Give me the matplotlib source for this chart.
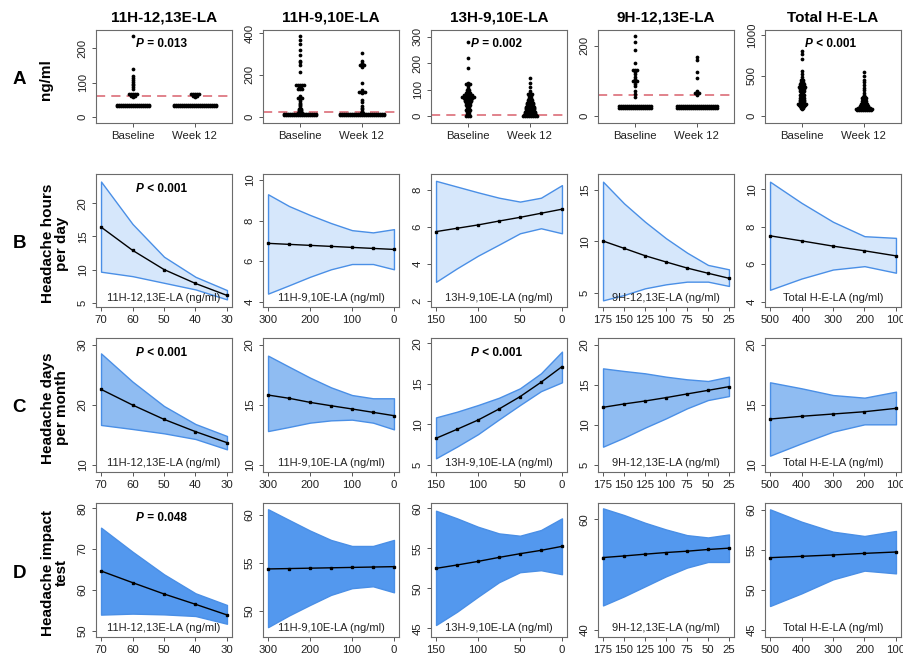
import numpy as np
import matplotlib
matplotlib.use('Agg')
import matplotlib.pyplot as plt
from matplotlib.offsetbox import TextArea, HPacker, AnchoredOffsetbox

plt.rcParams['font.family'] = ['Liberation Sans', 'DejaVu Sans']

# ---------------- data ----------------
analytes = ["11H-12,13E-LA", "11H-9,10E-LA", "13H-9,10E-LA", "9H-12,13E-LA", "Total H-E-LA"]
groups_A = ["Baseline", "Week 12"]

# Row A: (value ng/ml, number of patients at that value)
base_1 = [(31, 17), (36, 17), (58, 1), (62, 3), (66, 5), (80, 1), (86, 1), (92, 1), (97, 1),
          (102, 1), (107, 1), (112, 1), (118, 1), (138, 1), (235, 1)]
week_1 = [(31, 22), (36, 22), (58, 1), (62, 3), (66, 5)]
base_2 = [(8, 17), (14, 17), (20, 3), (26, 2), (32, 2), (38, 2), (44, 1), (50, 1), (56, 1), (62, 1),
          (68, 1), (75, 1), (85, 1), (92, 3), (99, 1), (135, 3), (142, 2), (150, 5), (215, 1),
          (245, 1), (260, 1), (268, 1), (295, 1), (320, 1), (345, 1), (365, 1), (385, 1)]
week_2 = [(8, 23), (14, 23), (20, 2), (28, 1), (36, 1), (44, 1), (52, 1), (72, 1), (80, 1),
          (115, 1), (120, 4), (126, 1), (160, 1), (240, 1), (248, 3), (256, 1), (265, 1), (305, 1)]
base_3 = [(0, 3), (8, 2), (15, 2), (22, 3), (28, 2), (35, 2), (42, 3), (50, 3), (56, 4), (62, 4),
          (68, 5), (74, 7), (80, 5), (86, 3), (92, 2), (98, 2), (106, 1), (115, 1), (120, 3),
          (126, 1), (183, 1), (218, 1), (281, 1)]
week_3 = [(0, 8), (5, 7), (10, 6), (15, 6), (20, 5), (25, 5), (30, 5), (35, 5), (40, 4), (45, 4),
          (50, 4), (55, 3), (60, 3), (65, 2), (70, 2), (75, 2), (82, 3), (88, 1), (95, 1),
          (110, 1), (125, 1), (145, 1)]
base_4 = [(24, 17), (29, 17), (55, 1), (62, 1), (72, 1), (85, 1), (92, 1), (98, 3), (104, 1),
          (110, 1), (118, 1), (124, 1), (130, 3), (150, 1), (188, 1), (211, 1), (228, 1)]
week_4 = [(24, 21), (29, 21), (60, 1), (65, 3), (70, 1), (107, 1), (126, 1), (159, 1), (167, 1)]
base_5 = [(90, 1), (100, 2), (110, 2), (120, 3), (135, 4), (150, 5), (165, 3), (180, 3), (200, 3),
          (220, 3), (240, 2), (255, 3), (275, 2), (295, 2), (315, 3), (335, 3), (355, 4),
          (375, 3), (395, 3), (420, 2), (445, 2), (480, 1), (520, 1), (560, 1), (700, 1),
          (760, 1), (800, 1)]
week_5 = [(80, 8), (90, 9), (100, 7), (110, 5), (120, 5), (135, 4), (150, 4), (165, 3), (180, 3),
          (200, 2), (220, 3), (240, 2), (260, 1), (290, 1), (320, 1), (350, 1), (380, 1),
          (420, 1), (450, 1), (500, 1), (540, 1)]
A_base = [base_1, base_2, base_3, base_4, base_5]
A_week = [week_1, week_2, week_3, week_4, week_5]
A_limit = [62, 22, 4, 60, None]
A_yticks = [[0, 100, 200], [0, 200, 400], [0, 100, 200, 300], [0, 200], [0, 500, 1000]]
A_ylim = [(-17, 252), (-29, 414), (-26, 325), (-20, 244), (-86, 1062)]
A_p = ["= 0.013", None, "= 0.002", None, "< 0.001"]

conc = [
    [70, 60, 50, 40, 30],
    [300, 250, 200, 150, 100, 50, 0],
    [150, 125, 100, 75, 50, 25, 0],
    [175, 150, 125, 100, 75, 50, 25],
    [500, 400, 300, 200, 100],
]
conc_ticks = [
    [70, 60, 50, 40, 30],
    [300, 200, 100, 0],
    [150, 100, 50, 0],
    [175, 150, 125, 100, 75, 50, 25],
    [500, 400, 300, 200, 100],
]

hours_mean = [
    [16.4, 12.9, 10.0, 7.9, 6.1],
    [6.88, 6.83, 6.78, 6.73, 6.68, 6.63, 6.58],
    [5.75, 5.93, 6.11, 6.32, 6.52, 6.74, 6.96],
    [10.03, 9.32, 8.60, 7.99, 7.40, 6.89, 6.40],
    [7.52, 7.25, 6.97, 6.72, 6.45],
]
hours_upper = [
    [23.26, 16.87, 11.93, 8.9, 6.9],
    [9.3, 8.72, 8.28, 7.88, 7.53, 7.42, 7.58],
    [8.49, 8.18, 7.87, 7.58, 7.37, 7.58, 8.26],
    [15.81, 13.7, 11.91, 10.3, 8.9, 7.7, 7.27],
    [10.41, 9.28, 8.27, 7.5, 7.41],
]
hours_lower = [
    [9.67, 9.0, 8.0, 7.0, 5.5],
    [4.4, 4.81, 5.23, 5.6, 5.86, 5.86, 5.6],
    [3.04, 3.77, 4.45, 5.05, 5.66, 5.93, 5.66],
    [4.25, 4.77, 5.42, 5.81, 6.07, 6.07, 5.65],
    [4.64, 5.24, 5.72, 5.9, 5.55],
]
hours_yticks = [[5, 10, 15, 20], [4, 6, 8, 10], [2, 4, 6, 8], [5, 10, 15], [4, 6, 8, 10]]
hours_ylim = [(4.35, 24.4), (3.74, 10.3), (1.68, 8.86), (3.6, 16.56), (3.72, 10.82)]
hours_p = ["< 0.001", None, None, None, None]

days_mean = [
    [22.61, 20.0, 17.61, 15.56, 13.72],
    [15.83, 15.56, 15.22, 14.94, 14.67, 14.39, 14.11],
    [8.29, 9.4, 10.54, 11.9, 13.42, 15.19, 17.12],
    [12.21, 12.63, 13.0, 13.42, 13.88, 14.33, 14.79],
    [13.83, 14.06, 14.25, 14.44, 14.72],
]
days_upper = [
    [28.6, 23.9, 19.83, 16.83, 14.83],
    [19.11, 18.19, 17.28, 16.47, 15.83, 15.56, 15.56],
    [10.87, 11.57, 12.39, 13.29, 14.45, 16.3, 18.97],
    [17.08, 16.75, 16.46, 16.04, 15.71, 15.5, 16.04],
    [16.89, 16.39, 15.83, 15.61, 16.11],
]
days_lower = [
    [16.67, 16.0, 15.28, 14.33, 12.61],
    [12.83, 13.17, 13.53, 13.72, 13.78, 13.53, 12.97],
    [5.83, 7.27, 8.8, 10.62, 12.39, 14.1, 15.19],
    [7.29, 8.42, 9.67, 10.83, 12.08, 13.12, 13.62],
    [10.78, 11.81, 12.78, 13.39, 13.39],
]
days_yticks = [[10, 20, 30], [10, 15, 20], [5, 10, 15, 20], [5, 10, 15, 20], [10, 15, 20]]
days_ylim = [(8.83, 31.17), (9.42, 20.58), (4.14, 20.65), (4.125, 20.875), (9.42, 20.58)]
days_p = ["< 0.001", None, "< 0.001", None, None]

hit_mean = [
    [64.63, 61.78, 59.0, 56.47, 53.86],
    [54.36, 54.40, 54.44, 54.48, 54.52, 54.56, 54.60],
    [52.5, 52.92, 53.37, 53.87, 54.33, 54.75, 55.25],
    [53.09, 53.38, 53.7, 54.0, 54.24, 54.55, 54.79],
    [54.04, 54.21, 54.38, 54.58, 54.75],
]
hit_upper = [
    [75.25, 69.36, 63.82, 59.17, 56.3],
    [60.6, 59.48, 58.37, 57.39, 56.76, 56.76, 57.39],
    [59.7, 58.75, 57.7, 56.87, 56.58, 57.29, 58.75],
    [62.0, 60.79, 59.39, 58.18, 57.15, 56.73, 57.27],
    [60.08, 58.54, 57.29, 56.75, 57.38],
]
hit_lower = [
    [53.94, 54.18, 54.0, 53.6, 51.7],
    [48.28, 49.5, 50.6, 51.65, 52.35, 52.55, 51.92],
    [45.42, 47.08, 48.96, 50.77, 52.02, 52.27, 51.77],
    [44.42, 46.06, 47.87, 49.69, 51.27, 52.29, 52.29],
    [48.0, 49.58, 51.33, 52.42, 52.08],
]
hit_yticks = [[50, 60, 70, 80], [50, 55, 60], [45, 50, 55, 60], [40, 60], [45, 50, 55, 60]]
hit_ylim = [(48.45, 81.3), (47.25, 61.25), (43.92, 60.67), (38.7, 62.97), (44.125, 60.875)]
hit_p = ["= 0.048", None, None, None, None]

row_letters = ["A", "B", "C", "D"]
row_titles = ["ng/ml", "Headache hours\nper day", "Headache days\nper month", "Headache impact\ntest"]

# ---------------- layout ----------------
W, H = 904, 656
fig = plt.figure(figsize=(W / 100, H / 100), dpi=100)
lefts = [96, 263, 431, 598, 765]
pw = 136
tops = [30, 174, 338, 503]
bottoms = [123, 307, 472, 637]

TICK_COL = '#222222'


def add_ax(c, r):
    l = lefts[c]
    t = tops[r]
    b = bottoms[r]
    return fig.add_axes([l / W, 1 - b / H, pw / W, (b - t) / H])


def style(ax, yticks, ylim):
    for s in ax.spines.values():
        s.set_color('#6b6b6b')
        s.set_linewidth(0.8)
    ax.tick_params(direction='out', length=3, width=0.7, color='#555555',
                   labelsize=8.2, labelcolor=TICK_COL)
    ax.tick_params(axis='x', pad=2.5)
    ax.tick_params(axis='y', pad=3)
    ax.set_ylim(*ylim)
    ax.set_yticks(yticks)
    ax.set_yticklabels([str(v) for v in yticks], rotation=90, va='center')


def ptext(ax, rest, x, y, size=8.5):
    t1 = TextArea("P", textprops=dict(fontstyle='italic', fontweight='bold', fontsize=size))
    t2 = TextArea(" " + rest, textprops=dict(fontweight='bold', fontsize=size))
    box = HPacker(children=[t1, t2], align='baseline', pad=0, sep=0)
    ab = AnchoredOffsetbox(loc='center', child=box, bbox_to_anchor=(x, y),
                           bbox_transform=ax.transAxes, frameon=False, pad=0, borderpad=0)
    ax.add_artist(ab)


def swarm(ax, groups, xc, dx=0.032):
    xs, ys = [], []
    for v, n in groups:
        off = (np.arange(n) - (n - 1) / 2) * dx
        xs.extend(xc + off)
        ys.extend([v] * n)
    ax.plot(xs, ys, 'o', color='black', ms=2.7, mec='none', zorder=3)


# Row A
for c in range(5):
    ax = add_ax(c, 0)
    swarm(ax, A_base[c], 1)
    swarm(ax, A_week[c], 2)
    if A_limit[c] is not None:
        ax.axhline(A_limit[c], color='#d8606c', lw=1.1, ls=(0, (6, 4)), zorder=2)
    ax.set_xlim(0.4, 2.6)
    ax.set_xticks([1, 2])
    ax.set_xticklabels(groups_A)
    style(ax, A_yticks[c], A_ylim[c])
    if A_p[c]:
        ptext(ax, A_p[c], 0.48, 0.845)
    fig.text((lefts[c] + pw / 2) / W, 1 - 18 / H, analytes[c], ha='center', va='center',
             fontsize=11, fontweight='bold')

rows = [
    (hours_mean, hours_upper, hours_lower, hours_yticks, hours_ylim, hours_p, '#d6e7fb'),
    (days_mean, days_upper, days_lower, days_yticks, days_ylim, days_p, '#8fbcf2'),
    (hit_mean, hit_upper, hit_lower, hit_yticks, hit_ylim, hit_p, '#5398ee'),
]
EDGE = '#4a8fe6'
for ri, (mean, up, lo, ytk, ylm, pv, fillc) in enumerate(rows):
    r = ri + 1
    for c in range(5):
        ax = add_ax(c, r)
        x = conc[c]
        ax.fill_between(x, lo[c], up[c], facecolor=fillc, edgecolor=EDGE, lw=1.0, zorder=1)
        ax.plot(x, mean[c], '-', color='black', lw=1.0, marker='s', ms=1.6, zorder=3)
        xmin, xmax = min(x), max(x)
        ext = 0.04 * (xmax - xmin)
        ax.set_xlim(xmax + ext, xmin - ext)
        ax.set_xticks(conc_ticks[c])
        ax.set_xticklabels([str(v) for v in conc_ticks[c]])
        style(ax, ytk[c], ylm[c])
        ax.text(0.5, 0.065, analytes[c] + " (ng/ml)", transform=ax.transAxes,
                ha='center', va='center', fontsize=8, color=TICK_COL, zorder=4)
        if pv[c]:
            ptext(ax, pv[c], 0.48, 0.885)

# Row labels
for r in range(4):
    yc = 1 - ((tops[r] + bottoms[r]) / 2 + 3) / H
    fig.text(19 / W, yc, row_letters[r], ha='center', va='center', fontsize=13.5,
             fontweight='bold')
    fig.text((46 if r == 0 else 55) / W, yc, row_titles[r], ha='center', va='center',
             rotation=90, fontsize=11, fontweight='bold', linespacing=1.0)

fig.savefig('out.png', dpi=100)
